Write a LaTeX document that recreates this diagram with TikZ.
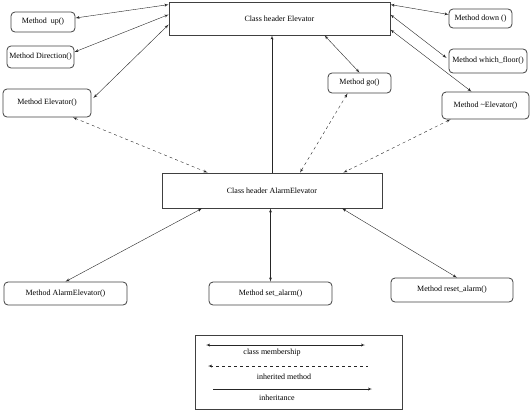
\documentclass[tikz,border=0pt]{standalone}
\usepackage{fontspec}
\setmainfont{Liberation Serif}
\usetikzlibrary{arrows,positioning,calc}

\begin{document}
\begin{tikzpicture}
[x=1pt,y=-1pt,font=\fontsize{8}{9.6}\selectfont,
classbox/.style={draw=black!75,thick,inner sep=0pt},
method/.style={draw=black!75,thick,rounded corners=4pt,inner sep=0pt},
dedge/.style={>=latex', shorten >=.0pt, shorten <=.0pt},
member/.style={dedge,<->,black!85},
inherited/.style={dedge,<->,dashed,black!85},
inherits/.style={dedge,->,black!85}]

\useasboundingbox (0,0) rectangle (532,410);

% class headers
\node[classbox,minimum width=221pt,minimum height=33pt] (elev) at (279.5,18.5) {Class header Elevator};
\node[classbox,minimum width=220pt,minimum height=35pt] (alarm) at (272,190.5) {Class header AlarmElevator};

% methods of Elevator
\node[method,minimum width=64pt,minimum height=20pt] (up) at (43,22) {Method\ \ up()};
\node[method,minimum width=67pt,minimum height=22pt] (dir) at (40.5,57) {Method Direction()};
\node[method,minimum width=88pt,minimum height=28pt] (elvm) at (47,103) {Method Elevator()};
\node[method,minimum width=63pt,minimum height=19pt] (down) at (480.5,18.5) {Method down ()};
\node[method,minimum width=78pt,minimum height=24pt] (which) at (488,61) {Method which\_floor()};
\node[method,minimum width=63pt,minimum height=20pt] (go) at (359.5,83) {Method go()};
\node[method,minimum width=87pt,minimum height=27pt] (dtor) at (485.5,105.5) {Method \textasciitilde Elevator()};

% methods of AlarmElevator
\node[method,minimum width=123pt,minimum height=23pt] (ame) at (65.5,293.5) {Method AlarmElevator()};
\node[method,minimum width=123pt,minimum height=23pt] (set) at (270.5,293.5) {Method set\_alarm()};
\node[method,minimum width=122pt,minimum height=24pt] (reset) at (452,290) {Method reset\_alarm()};

% class membership
\draw[member] ([yshift=-3pt]elev.north west) -- ([yshift=4pt]up.east);
\draw[member] ([yshift=-13pt]elev.north west) -- ([yshift=5pt]dir.east);
\draw[member] ([yshift=-23pt]elev.north west) -- ([xshift=2pt,yshift=5pt]elvm.east);
\draw[member] ([yshift=-3pt]elev.north east) -- ([yshift=4pt]down.west);
\draw[member] ([yshift=-13pt]elev.north east) -- ([xshift=-2pt,yshift=3pt]which.west);
\draw[member] ([yshift=-28pt]elev.north east) -- ([xshift=-14pt]dtor.north);
\draw[member] ([xshift=45pt]elev.south) -- (go.north);
\draw[member] ([xshift=-70pt]alarm.south) -- (ame.north);
\draw[member] (set.north) -- (set.north |- alarm.south);
\draw[member] ([xshift=70pt]alarm.south) -- ([xshift=5pt]reset.north);

% inherited methods
\draw[inherited] ([xshift=26pt]elvm.south) -- ([xshift=46pt]alarm.north west);
\draw[inherited] ([xshift=-12pt]go.south) -- ([xshift=28pt]alarm.north);
\draw[inherited] ([xshift=-35pt]dtor.south) -- ([xshift=-39pt]alarm.north east);

% inheritance
\draw[inherits] (alarm.north) -- (alarm.north |- elev.south);

% legend
\node[classbox,minimum width=207pt,minimum height=74pt] (legend) at (298.5,372) {};
\coordinate (m1) at (206,345);
\coordinate (m2) at (365,345);
\coordinate (d1) at (208,366);
\coordinate (d2) at (368,366);
\coordinate (i1) at (213,389);
\coordinate (i2) at (372,389);
\draw[member] (m1) -- (m2);
\draw[dedge,<-,dashed,black!85] (d1) -- (d2);
\draw[inherits] (i1) -- (i2);
\node (lmember) at (272,353) {class membership};
\node (linherited) at (284,377) {inherited method};
\node (linherit) at (277,398) {inheritance};
\end{tikzpicture}
\end{document}
